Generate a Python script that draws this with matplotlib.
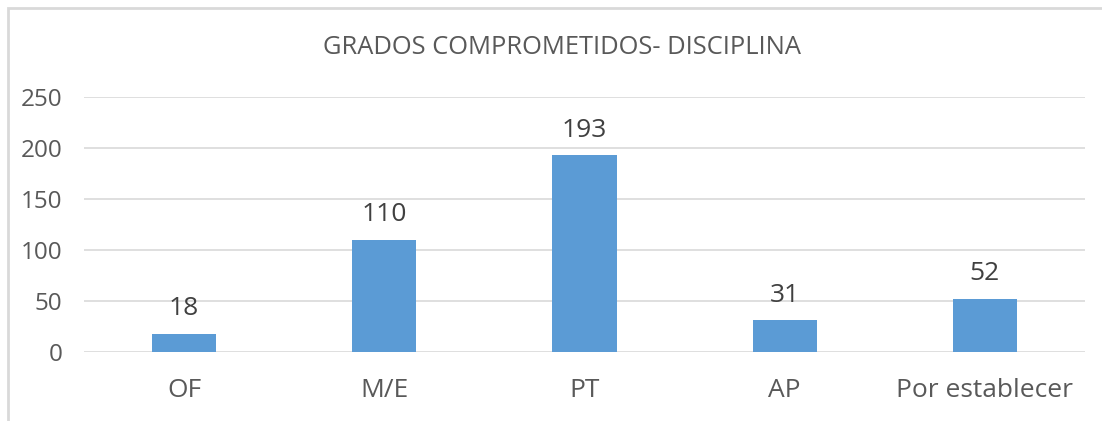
import matplotlib
matplotlib.use("Agg")
import matplotlib.pyplot as plt
from matplotlib.patches import Rectangle
import numpy as np

categorias = ["OF", "M/E", "PT", "AP", "Por establecer"]
valores = [18, 110, 193, 31, 52]
yticks = [0, 50, 100, 150, 200, 250]

AZUL = "#5B9BD5"
TEXTO = "#595959"
ETIQ = "#404040"
GRID = "#D9D9D9"

plt.rcParams["font.family"] = ["Open Sans", "DejaVu Sans"]

fig = plt.figure(figsize=(11.02, 4.21), dpi=100)
ax = fig.add_axes([84 / 1102, 69 / 421, 1001 / 1102, 255 / 421])

x = np.arange(len(categorias))
ax.bar(x, valores, 0.32, color=AZUL, zorder=3)

for xi, v in zip(x, valores):
    ax.annotate(f"{v}", (xi, v), ha="center", va="bottom", fontsize=19,
                color=ETIQ, xytext=(0, 9), textcoords="offset points")

ax.set_xlim(-0.5, len(categorias) - 0.5)
ax.set_ylim(0, 250)
ax.set_yticks(yticks)
ax.set_xticks(x)
ax.set_xticklabels(categorias, fontsize=19)
ax.tick_params(axis="both", length=0, labelcolor=TEXTO)
ax.tick_params(axis="y", labelsize=17.5, pad=15.5)
ax.tick_params(axis="x", pad=19)
ax.grid(axis="y", color=GRID, linewidth=1.2, zorder=0)
for s in ax.spines.values():
    s.set_visible(False)

fig.text(562 / 1102, 1 - 47 / 421, "GRADOS COMPROMETIDOS- DISCIPLINA",
         ha="center", va="center", fontsize=18.4, color=TEXTO)

# borde del área del gráfico (recortado a la derecha y abajo)
fig.patches.append(Rectangle((8 / 1102, -0.1), 1.2, 1 - 8 / 421 + 0.1,
                             transform=fig.transFigure, fill=False,
                             edgecolor=GRID, linewidth=2))

fig.savefig("out.png", dpi=100)
